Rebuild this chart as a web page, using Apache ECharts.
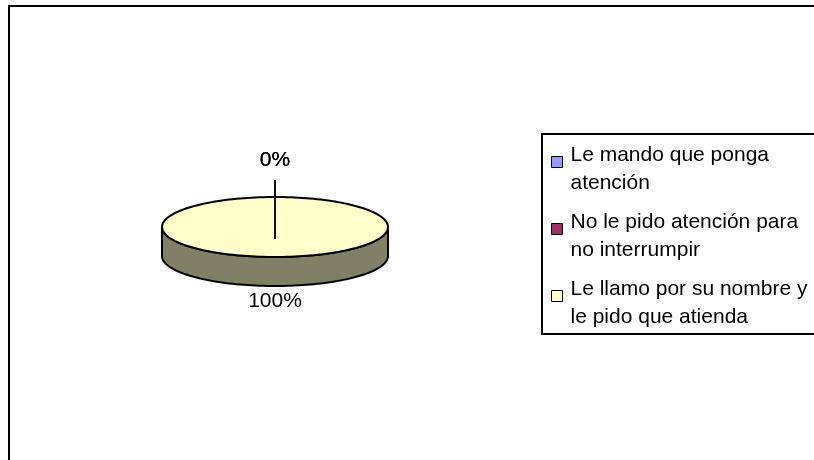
<!DOCTYPE html>
<html>
<head>
<meta charset="utf-8">
<script src="https://cdn.jsdelivr.net/npm/echarts@6/dist/echarts.min.js"></script>
<style>
  html, body { margin: 0; padding: 0; background: #fff; overflow: hidden; }
  /* el grafico original esta recortado a la derecha: el contenedor es mas ancho que la ventana */
  #chart { width: 900px; height: 460px; }
</style>
</head>
<body>
<div id="chart"></div>
<script>
// datos del grafico
var categories = [
    'Le mando que ponga atención',
    'No le pido atención para no interrumpir',
    'Le llamo por su nombre y le pido que atienda'
];
var values = [0, 0, 100];
var colors = ['#9999FF', '#993366', '#FFFFCC'];

// geometria de la torta 3D (elipse aplanada)
var cx = 275, cy = 227, rx = 113, ry = 30, depth = 29;
var FONT = '"Liberation Sans", Arial, sans-serif';

var total = values.reduce(function (a, b) { return a + b; }, 0);
var cum = [];
values.reduce(function (acc, v, i) { cum[i] = acc; return acc + v; }, 0);

function shade(hex, k) {
    var n = parseInt(hex.slice(1), 16);
    var r = Math.round(((n >> 16) & 255) * k);
    var g = Math.round(((n >> 8) & 255) * k);
    var b = Math.round((n & 255) * k);
    return 'rgb(' + r + ',' + g + ',' + b + ')';
}

function pt(t, dy) {
    return [cx + rx * Math.sin(t), cy - ry * Math.cos(t) + (dy || 0)];
}

function arc(t0, t1, dy) {
    var n = Math.max(2, Math.ceil((t1 - t0) / (2 * Math.PI) * 180));
    var pts = [];
    for (var k = 0; k <= n; k++) {
        pts.push(pt(t0 + (t1 - t0) * k / n, dy));
    }
    return pts;
}

function renderSlice(params, api) {
    var i = params.seriesIndex;
    var v = api.value(0);
    var a0 = cum[i] / total * 2 * Math.PI;
    var a1 = a0 + v / total * 2 * Math.PI;
    var color = colors[i];
    var children = [];

    // cara lateral (solo la mitad delantera)
    var s0 = Math.max(a0, Math.PI / 2), s1 = Math.min(a1, Math.PI * 1.5);
    if (s1 > s0) {
        children.push({
            type: 'polygon',
            z2: 0,
            shape: { points: arc(s0, s1, 0).concat(arc(s0, s1, depth).reverse()) },
            style: { fill: shade(color, 0.5), stroke: '#000', lineWidth: 2 }
        });
    }
    // cara superior
    if (a1 > a0) {
        var pts = arc(a0, a1, 0);
        if (a1 - a0 < 2 * Math.PI - 1e-6) pts.unshift([cx, cy]);
        children.push({
            type: 'polygon',
            z2: 1,
            shape: { points: pts },
            style: { fill: color, stroke: '#000', lineWidth: 2 }
        });
    }

    // etiqueta de porcentaje
    var mid = (a0 + a1) / 2;
    var front = Math.cos(mid) < 0;
    var leader = v === 0;
    var off = leader ? 37 : 15;
    var lx = cx + (rx + off) * Math.sin(mid);
    var ly = cy - (ry + off) * Math.cos(mid) + (front ? depth : 0);
    if (leader) {
        var ex = cx - rx * 0.4 * Math.sin(mid), ey = cy + ry * 0.4 * Math.cos(mid);
        var dx = ex - lx, dy = ey - ly, len = Math.sqrt(dx * dx + dy * dy) || 1;
        children.push({
            type: 'line',
            z2: 10,
            shape: { x1: lx + dx / len * 20, y1: ly + dy / len * 20, x2: ex, y2: ey },
            style: { stroke: '#000', lineWidth: 1.5 }
        });
    }
    children.push({
        type: 'text',
        z2: 10,
        style: {
            text: Math.round(v / total * 100) + '%',
            x: lx, y: ly,
            align: 'center', verticalAlign: 'middle',
            fill: '#000', font: '21px ' + FONT
        }
    });
    return { type: 'group', children: children };
}

var myChart = echarts.init(document.getElementById('chart'));

var series = categories.map(function (name, i) {
    return {
        type: 'custom',
        name: name,
        coordinateSystem: 'none',
        itemStyle: { color: colors[i] },
        renderItem: renderSlice,
        data: [values[i]],
        animation: false
    };
});

var options = {
    backgroundColor: '#fff',
    animation: false,
    graphic: [{
        type: 'rect',
        z: -1,
        shape: { x: 9, y: 6, width: 1000, height: 1000 },
        style: { fill: 'none', stroke: '#000', lineWidth: 2 }
    }],
    legend: {
        orient: 'vertical',
        left: 542,
        top: 134,
        padding: [7, 40, 2, 9],
        itemGap: 10,
        itemWidth: 14,
        itemHeight: 56,
        icon: 'path://M0,0 M14,56 M0,15 h11 v11 h-11 Z',
        symbolKeepAspect: false,
        borderColor: '#000',
        borderWidth: 2,
        selectedMode: false,
        itemStyle: { borderColor: '#000', borderWidth: 1 },
        textStyle: {
            fontFamily: FONT,
            fontSize: 21,
            lineHeight: 28,
            color: '#000',
            width: 245,
            overflow: 'break'
        },
        data: categories
    },
    series: series
};

myChart.setOption(options);
</script>
</body>
</html>
